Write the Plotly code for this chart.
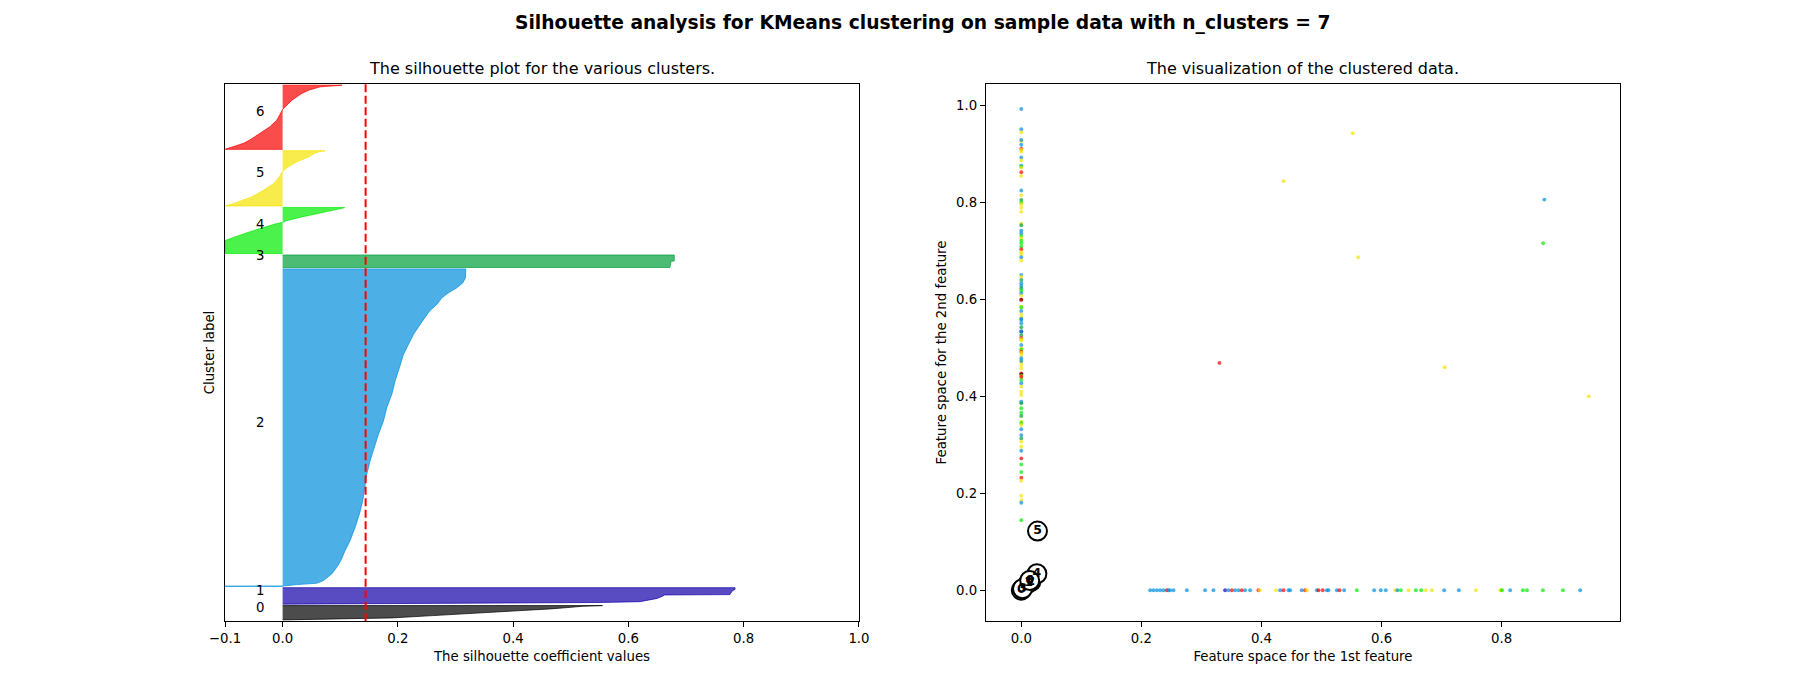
import plotly.graph_objects as go

# ---------------- data ----------------
n_clusters = 7
cluster_sizes = [110, 126, 2416, 96, 352, 421, 489]
silhouette_avg = 0.144

# sorted silhouette values per cluster, read at fractional rank positions
c0_rank = [0.0, 0.05, 0.14, 0.30, 0.45, 0.60, 0.77, 0.88, 0.95, 1.0]
c0_sil = [0.0, 0.10, 0.19, 0.26, 0.33, 0.40, 0.465, 0.50, 0.52, 0.555]
c1_rank = [0.0, 0.04, 0.10, 0.15, 0.25, 0.35, 0.50, 0.56, 0.58, 0.80, 0.90, 1.0]
c1_sil = [0.0, 0.30, 0.55, 0.62, 0.633, 0.65, 0.66, 0.663, 0.776, 0.78, 0.785, 0.785]
c2_rank = [0.0, 0.0005, 0.0052, 0.0094, 0.0178, 0.0388, 0.0597, 0.0807, 0.1122, 0.1436,
           0.1855, 0.2275, 0.2694, 0.3113, 0.3532, 0.3952, 0.4371, 0.479, 0.521, 0.5629,
           0.6048, 0.6468, 0.6887, 0.7306, 0.762, 0.7935, 0.8249, 0.8459, 0.8669, 0.8878,
           0.9088, 0.9245, 0.9403, 0.956, 0.9717, 1.0]
c2_sil = [-0.10, 0.0, 0.0244, 0.0591, 0.0707, 0.0852, 0.0939, 0.1008, 0.1083, 0.117,
          0.1257, 0.1332, 0.139, 0.1419, 0.146, 0.1517, 0.1587, 0.1662, 0.1749, 0.1807,
          0.1894, 0.1951, 0.2026, 0.2096, 0.2183, 0.2269, 0.2385, 0.2472, 0.2547, 0.2675,
          0.2762, 0.2877, 0.3022, 0.3126, 0.3172, 0.3178]
c3_rank = [0.0, 0.50, 0.52, 1.0]
c3_sil = [0.672, 0.674, 0.6795, 0.6795]
c4_rank = [0.0, 0.281, 0.353, 0.424, 0.496, 0.568, 0.640, 0.676, 0.712, 0.784, 0.856, 0.928, 0.986, 1.0]
c4_sil = [-0.10, -0.10, -0.0856, -0.068, -0.0508, -0.0334, -0.013, 0.0, 0.0064, 0.0295, 0.0585, 0.0816, 0.1047, 0.1076]
c5_rank = [0.0, 0.042, 0.102, 0.163, 0.283, 0.404, 0.524, 0.633, 0.705, 0.795, 0.886, 0.958, 0.988, 1.0]
c5_sil = [-0.10, -0.0856, -0.068, -0.0537, -0.0334, -0.016, -0.0058, 0.0, 0.0093, 0.0237, 0.0446, 0.056, 0.065, 0.0736]
c6_rank = [0.0, 0.04, 0.093, 0.145, 0.249, 0.352, 0.456, 0.56, 0.62, 0.767, 0.87, 0.922, 0.974, 1.0]
c6_sil = [-0.10, -0.086, -0.068, -0.057, -0.039, -0.022, -0.010, -0.0045, 0.0, 0.016, 0.033, 0.045, 0.065, 0.103]

sil_ranks = [c0_rank, c1_rank, c2_rank, c3_rank, c4_rank, c5_rank, c6_rank]
sil_values = [c0_sil, c1_sil, c2_sil, c3_sil, c4_sil, c5_sil, c6_sil]

# scatter data: x=0 column
col_y = [0.993, 0.951, 0.9445, 0.927, 0.929, 0.919, 0.911, 0.909, 0.905, 0.893, 0.887, 0.876, 0.874,
         0.872, 0.8626, 0.855, 0.8247, 0.815, 0.8055, 0.80, 0.7966, 0.789, 0.7807, 0.756, 0.7532,
         0.742, 0.7366, 0.731, 0.7262, 0.7214, 0.716, 0.709, 0.7036, 0.6974, 0.6933, 0.687, 0.680,
         0.6506, 0.647, 0.640, 0.6334, 0.628, 0.623, 0.618, 0.6128, 0.608, 0.5995, 0.5995, 0.585,
         0.584, 0.576, 0.569, 0.5617, 0.560, 0.5576, 0.5508, 0.5425, 0.534, 0.534, 0.5266, 0.5204,
         0.518, 0.515, 0.506, 0.499, 0.497, 0.492, 0.49, 0.4853, 0.4785, 0.4715, 0.473, 0.4647,
         0.458, 0.4475, 0.445, 0.442, 0.440, 0.4337, 0.427, 0.42, 0.4095, 0.4027, 0.389, 0.3856,
         0.3753, 0.3662, 0.3594, 0.3476, 0.345, 0.3408, 0.332, 0.320, 0.3132, 0.3063, 0.296,
         0.2877, 0.272, 0.2596, 0.2437, 0.232, 0.2257, 0.1948, 0.1859, 0.1803, 0.1446]
col_label = [2, 2, 5, 5, 2, 2, 6, 5, 5, 2, 5, 2, 4,
             5, 6, 5, 2, 5, 3, 4, 5, 5, 5, 5, 3,
             2, 2, 4, 5, 4, 4, 4, 6, 5, 5, 2, 5,
             2, 5, 3, 2, 2, 3, 4, 2, 5, 0, 6, 5,
             4, 2, 5, 5, 2, 2, 2, 3, 1, 2, 3, 6,
             5, 5, 2, 5, 4, 6, 5, 5, 2, 5, 2, 5,
             5, 6, 0, 5, 6, 4, 2, 5, 5, 5, 2, 3,
             4, 4, 3, 5, 4, 5, 2, 2, 3, 5, 5,
             2, 6, 4, 4, 6, 5, 5, 5, 2, 4]
# y=0 row
row_x = [0.2145, 0.22, 0.2257, 0.2312, 0.2367, 0.2423, 0.245, 0.2478, 0.2534, 0.2757, 0.3061, 0.32,
         0.3394, 0.345, 0.3506, 0.356, 0.3617, 0.3672, 0.3728, 0.381, 0.395, 0.397, 0.4244, 0.431,
         0.4366, 0.4449, 0.4477, 0.467, 0.4727, 0.4755, 0.4922, 0.495, 0.502, 0.5088, 0.5116, 0.5255,
         0.5299, 0.5376, 0.5588, 0.5876, 0.5987, 0.607, 0.6226, 0.6264, 0.632, 0.6448, 0.657, 0.6659,
         0.6737, 0.6837, 0.7042, 0.7287, 0.757, 0.7975, 0.8003, 0.8003, 0.8141, 0.8353, 0.842, 0.8686,
         0.9019, 0.9307]
row_label = [2, 2, 2, 2, 2, 6, 2, 2, 2, 2, 2, 2,
             1, 2, 6, 2, 2, 6, 2, 2, 6, 5, 5, 2,
             6, 2, 2, 2, 6, 5, 2, 6, 6, 2, 2, 2,
             6, 2, 4, 2, 2, 2, 5, 2, 4, 5, 4, 4,
             5, 5, 2, 2, 5, 5, 5, 4, 2, 4, 4, 4,
             4, 2]
# other points
free_x = [0.552, 0.437, 0.871, 0.869, 0.561, 0.330, 0.705, 0.945, 0.0, 0.0, 0.01, 0.005, 0.02]
free_y = [0.943, 0.844, 0.806, 0.716, 0.687, 0.469, 0.460, 0.400, 0.0, 0.002, 0.015, 0.01, 0.03]
free_label = [5, 5, 2, 4, 5, 6, 5, 5, 0, 0, 1, 3, 4]

# cluster centers
center_x = [0.0, 0.012, 0.016, 0.002, 0.026, 0.027, 0.014]
center_y = [0.0, 0.015, 0.018, 0.003, 0.034, 0.122, 0.02]

# ---------------- styling ----------------
cmap = [(0, 0, 0), (19, 0, 168), (0, 143, 221), (0, 160, 58), (0, 236, 0), (243, 228, 0), (250, 0, 0)]


def rgba(c, a):
    return "rgba(%d,%d,%d,%s)" % (c[0], c[1], c[2], a)


FONT = "DejaVu Sans"
fig = go.Figure()

# ---------- silhouette plot ----------
y_lower = 10
label_annots = []
for i in range(n_clusters):
    size = cluster_sizes[i]
    ys = [y_lower + f * (size - 1) for f in sil_ranks[i]]
    xs = list(sil_values[i])
    px = [0] + xs + [0]
    py = [ys[0]] + ys + [ys[-1]]
    fig.add_trace(go.Scatter(
        x=px, y=py, mode="lines", fill="toself",
        fillcolor=rgba(cmap[i], 0.7), line=dict(color=rgba(cmap[i], 0.7), width=1),
        xaxis="x", yaxis="y", showlegend=False, hoverinfo="skip"))
    label_annots.append(dict(x=-0.05, y=y_lower + 0.5 * size, xref="x", yref="y",
                             text=str(i), showarrow=False, xanchor="left", yanchor="bottom",
                             yshift=-4, font=dict(family=FONT, size=13.3, color="black")))
    y_lower = y_lower + size + 10

n_total = sum(cluster_sizes)
ytop = n_total + (n_clusters + 1) * 10

fig.add_trace(go.Scatter(x=[silhouette_avg, silhouette_avg], y=[0, ytop], mode="lines",
                         line=dict(color="red", width=2, dash="8px,3.5px"),
                         xaxis="x", yaxis="y", showlegend=False, hoverinfo="skip"))

# ---------- scatter plot ----------
all_x = [0.0] * len(col_y) + row_x + free_x
all_y = col_y + [0.0] * len(row_x) + free_y
all_lab = col_label + row_label + free_label
fig.add_trace(go.Scatter(
    x=all_x, y=all_y, mode="markers",
    marker=dict(size=3.9, color=[rgba(cmap[l], 0.7) for l in all_lab], line=dict(width=0)),
    xaxis="x2", yaxis="y2", showlegend=False, hoverinfo="skip"))
fig.add_trace(go.Scatter(
    x=center_x, y=center_y, mode="markers",
    marker=dict(size=19, color="white", line=dict(color="black", width=2)),
    xaxis="x2", yaxis="y2", showlegend=False, hoverinfo="skip"))
fig.add_trace(go.Scatter(
    x=center_x, y=center_y, mode="text", text=[str(i) for i in range(n_clusters)],
    textfont=dict(family=FONT, size=12.5, color="black", weight="bold"),
    textposition="middle center",
    xaxis="x2", yaxis="y2", showlegend=False, hoverinfo="skip"))

axis_common = dict(showline=True, linecolor="black", linewidth=1, mirror=True, automargin=False,
                   showgrid=False, zeroline=False, ticks="outside", ticklen=5, tickwidth=1,
                   tickcolor="black", tickfont=dict(family=FONT, size=13.3, color="black"))

fig.update_layout(
    width=1800, height=698,
    margin=dict(l=0, r=0, t=0, b=0, autoexpand=False),
    paper_bgcolor="white", plot_bgcolor="white",
    font=dict(family=FONT, color="black"),
    xaxis=dict(domain=[0.125, 0.4772], range=[-0.1, 1.0],
               tickvals=[-0.1, 0, 0.2, 0.4, 0.6, 0.8, 1.0],
               ticktext=["\u22120.1", "0.0", "0.2", "0.4", "0.6", "0.8", "1.0"],
               title=dict(text="The silhouette coefficient values", standoff=6,
                          font=dict(family=FONT, size=13.3, color="black")),
               anchor="y", **axis_common),
    yaxis=dict(domain=[0.11, 0.88], range=[0, ytop], showticklabels=False, ticks="",
               showline=True, linecolor="black", linewidth=1, mirror=True, automargin=False,
               showgrid=False, zeroline=False,
               title=dict(text="Cluster label", standoff=6,
                          font=dict(family=FONT, size=13.3, color="black")),
               anchor="x"),
    xaxis2=dict(domain=[0.5477, 0.9], range=[-0.059, 0.997],
                tickvals=[0, 0.2, 0.4, 0.6, 0.8], ticktext=["0.0", "0.2", "0.4", "0.6", "0.8"],
                title=dict(text="Feature space for the 1st feature", standoff=6,
                           font=dict(family=FONT, size=13.3, color="black")),
                anchor="y2", **axis_common),
    yaxis2=dict(domain=[0.11, 0.88], range=[-0.064, 1.045],
                tickvals=[0, 0.2, 0.4, 0.6, 0.8, 1.0],
                ticktext=["0.0", "0.2", "0.4", "0.6", "0.8", "1.0"],
                title=dict(text="Feature space for the 2nd feature", standoff=6,
                           font=dict(family=FONT, size=13.3, color="black")),
                anchor="x2", **axis_common),
)

annots = label_annots + [
    dict(x=(0.125 + 0.4772) / 2, y=0.88, xref="paper", yref="paper", yshift=4,
         text="The silhouette plot for the various clusters.", showarrow=False,
         xanchor="center", yanchor="bottom", font=dict(family=FONT, size=16, color="black")),
    dict(x=(0.5477 + 0.9) / 2, y=0.88, xref="paper", yref="paper", yshift=4,
         text="The visualization of the clustered data.", showarrow=False,
         xanchor="center", yanchor="bottom", font=dict(family=FONT, size=16, color="black")),
    dict(x=0.5125, y=0.985, xref="paper", yref="paper",
         text="<b>Silhouette analysis for KMeans clustering on sample data with n_clusters = 7</b>",
         showarrow=False, xanchor="center", yanchor="top",
         font=dict(family=FONT, size=18.7, color="black")),
]
fig.update_layout(annotations=annots)

fig.write_html("out.html", config={"displayModeBar": False},
               post_script="document.body.style.margin='0';")
